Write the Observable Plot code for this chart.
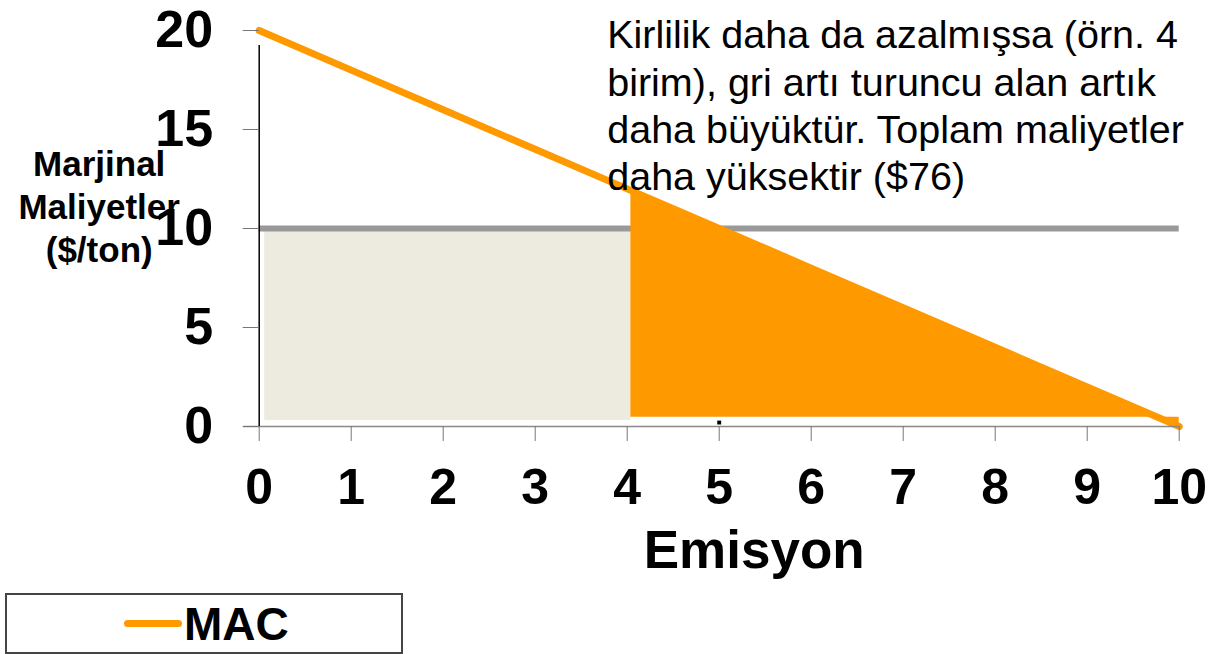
<!DOCTYPE html>
<html>
<head>
<meta charset="utf-8">
<script src="https://cdn.jsdelivr.net/npm/d3@7"></script>
<script src="https://cdn.jsdelivr.net/npm/@observablehq/plot@0.6"></script>
<style>
  body { margin: 0; background: white; font-family: "Liberation Sans", Arial, sans-serif; }
  #wrap { position: relative; width: 1213px; height: 654px; }
  #legend {
    position: absolute; left: 5px; top: 593px; width: 394px; height: 57px;
    border: 2px solid #444; box-sizing: content-box; background: white;
  }
  #legend .sw { position: absolute; left: 117px; top: 25px; width: 58px; height: 7px; background: #FF9900; border-radius: 4px; }
  #legend .lb { position: absolute; left: 177px; top: 3px; font-weight: bold; font-size: 46px; line-height: 52px; color: black; }
</style>
</head>
<body>
<div id="wrap">
  <div id="chart"></div>
  <div id="legend"><div class="sw"></div><div class="lb">MAC</div></div>
</div>
<script>
// Data
const emissions = [0, 1, 2, 3, 4, 5, 6, 7, 8, 9, 10];
const mac = [20, 18, 16, 14, 12, 10, 8, 6, 4, 2, 0];
const tax = 10;
const reducedEmission = 4;
const xTicks = [0, 1, 2, 3, 4, 5, 6, 7, 8, 9, 10];
const yTicks = [0, 5, 10, 15, 20];
const markerX = [5];
const annotation = "Kirlilik daha da azalmışsa (örn. 4\nbirim), gri artı turuncu alan artık\ndaha büyüktür. Toplam maliyetler\ndaha yüksektir ($76)";
const yTitle = "Marjinal\nMaliyetler\n($/ton)";
const xTitle = "Emisyon";

const macRows = emissions.map((e, i) => ({x: e, y: mac[i]}));
const orangeRows = macRows.filter(d => d.x >= reducedEmission).map(d => ({x: d.x === reducedEmission ? d.x + 0.04 : d.x, y: d.x === reducedEmission ? mac[emissions.indexOf(reducedEmission)] - 0.08 : d.y}));

const chart = Plot.plot({
  width: 1213,
  height: 590,
  marginLeft: 258.7,
  marginRight: 34.3,
  marginTop: 30,
  marginBottom: 164,
  x: {domain: [0, 10]},
  y: {domain: [0, 20]},
  style: {fontFamily: "'Liberation Sans', Arial, sans-serif", color: "black", background: "white", overflow: "visible"},
  marks: [
    // gray rectangle (tax payment on remaining emissions)
    Plot.rect([{x1: 0.06, x2: reducedEmission + 0.04, y1: 0.3, y2: tax - 0.15}], {x1: "x1", x2: "x2", y1: "y1", y2: "y2", fill: "#EDEBE0"}),
    // tax line
    Plot.ruleY([tax], {x1: 0, x2: 10, stroke: "#999999", strokeWidth: 6}),
    // orange abatement cost area
    Plot.areaY(orangeRows, {x: "x", y1: 0.47, y2: "y", fill: "#FF9900"}),
    // MAC line
    Plot.line(macRows, {x: "x", y: "y", stroke: "#FF9900", strokeWidth: 7}),
    // x axis line
    Plot.ruleY([0], {x1: -0.17, x2: 10, stroke: "#888", strokeWidth: 1.5}),
    // y axis line
    Plot.ruleX([0], {y1: 0, y2: 20, stroke: "black", strokeWidth: 1.5, insetBottom: -15}),
    Plot.dot(markerX, {x: d => d, y: 0.2, symbol: "square", r: 2.2, fill: "black"}),
    Plot.axisY({ticks: yTicks, tickSize: 16, tickPadding: 30, fontSize: 52, fontWeight: "bold", stroke: "#777", label: null}),
    Plot.axisX({ticks: xTicks, tickSize: 15, tickPadding: 27, fontSize: 50, fontWeight: "bold", stroke: "#777", label: null}),
    Plot.text([xTitle], {frameAnchor: "bottom", dx: 35, dy: 125, fontSize: 53, fontWeight: "bold", lineAnchor: "middle"}),
    Plot.text([yTitle], {frameAnchor: "left", dx: -160, dy: -23, fontSize: 35, fontWeight: "bold", lineHeight: 1.23, textAnchor: "middle", lineAnchor: "middle"}),
    Plot.text([annotation], {frameAnchor: "top-left", dx: 348, dy: -16, fontSize: 39.5, lineHeight: 1.2, textAnchor: "start", lineAnchor: "top"})
  ]
});
document.getElementById("chart").appendChild(chart);
</script>
</body>
</html>
